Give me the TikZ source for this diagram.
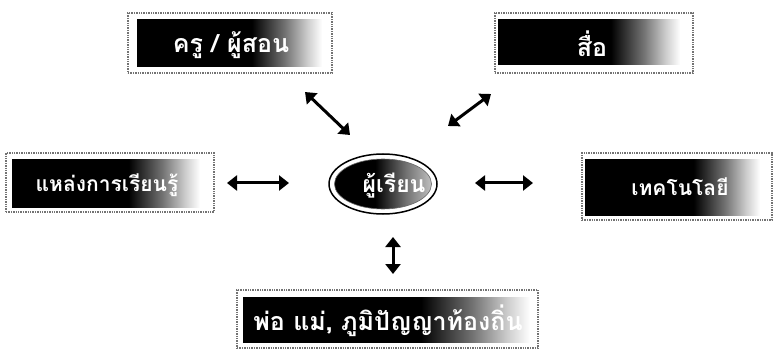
\documentclass[tikz,border=0pt]{standalone}
\usepackage{fontspec}
\newfontfamily\thai[Script=Thai]{Loma}
\usetikzlibrary{arrows.meta,shapes.geometric}
\pgfdeclarehorizontalshading{boxshade}{100bp}{color(0bp)=(black); color(25bp)=(black); color(56bp)=(black); color(65bp)=(black!55); color(71bp)=(black!20); color(75bp)=(white); color(100bp)=(white)}
\pgfdeclarehorizontalshading{ellshade}{100bp}{color(0bp)=(black); color(25bp)=(black); color(46bp)=(black); color(62bp)=(black!55); color(75bp)=(black!25); color(100bp)=(black!25)}
\tikzset{
  frame/.style={draw=black!55, densely dotted, line width=1.4pt, rectangle, inner sep=0pt},
  inbox/.style={rectangle, shading=boxshade, inner sep=0pt},
  lbl/.style={text=white, font=\thai\bfseries, inner sep=0pt},
  dbl/.style={{Triangle[length=10pt,width=15pt]}-{Triangle[length=10pt,width=15pt]}, line width=3pt},
}
\begin{document}
\begin{tikzpicture}[x=1pt,y=-1pt]
\useasboundingbox (0,0) rectangle (774,350);
% top-left
\node[frame, minimum width=204pt, minimum height=60pt] (tlf) at (230,43) {};
\node[inbox, minimum width=185pt, minimum height=47pt] (tlb) at (229.5,43.5) {};
\node[lbl, font=\thai\bfseries\fontsize{25}{27}\selectfont] (tl) at (231,45) {ครู / ผู้สอน};
% top-right
\node[frame, minimum width=198pt, minimum height=60pt] (trf) at (594,43) {};
\node[inbox, minimum width=182pt, minimum height=45pt] (trb) at (589,42.5) {};
\node[lbl, font=\thai\bfseries\fontsize{25}{27}\selectfont] (tr) at (592,44) {สื่อ};
% left
\node[frame, minimum width=208pt, minimum height=59pt] (lf) at (110,182.5) {};
\node[inbox, minimum width=188pt, minimum height=47pt] (lb) at (106,183.5) {};
\node[lbl, font=\thai\bfseries\fontsize{21}{23}\selectfont] (l) at (107,185) {แหล่งการเรียนรู้};
% right
\node[frame, minimum width=190pt, minimum height=67pt] (rf) at (677,186.5) {};
\node[inbox, minimum width=175pt, minimum height=55pt] (rb) at (672.5,187.5) {};
\node[lbl, font=\thai\bfseries\fontsize{21}{23}\selectfont] (r) at (680,187) {เทคโนโลยี};
% bottom
\node[frame, minimum width=301pt, minimum height=58pt] (bf) at (387.5,319) {};
\node[inbox, minimum width=287pt, minimum height=45pt] (bb) at (386.5,319.5) {};
\node[lbl, font=\thai\bfseries\fontsize{25}{27}\selectfont] (b) at (388,321) {พ่อ แม่, ภูมิปัญญาท้องถิ่น};
% centre ellipse
\node[ellipse, draw=black, line width=1.5pt, fill=white, minimum width=108pt, minimum height=60pt] (ce) at (383,184) {};
\node[ellipse, shading=ellshade, draw=black!60, line width=0.6pt, minimum width=97pt, minimum height=50pt] (ci) at (383,184) {};
\node[lbl, font=\thai\bfseries\fontsize{23}{25}\selectfont] (c) at (394,186) {ผู้เรียน};
% arrow end points
\coordinate (a1s) at (305,92);
\coordinate (a1e) at (350,135);
\coordinate (a2s) at (448,126);
\coordinate (a2e) at (491,94);
\coordinate (a3s) at (227,183);
\coordinate (a3e) at (289,183);
\coordinate (a4s) at (475,183);
\coordinate (a4e) at (533,183);
\coordinate (a5s) at (393,237);
\coordinate (a5e) at (393,274);
\draw[dbl] (a1s) -- (a1e);
\draw[dbl] (a2s) -- (a2e);
\draw[dbl] (a3s) -- (a3e);
\draw[dbl] (a4s) -- (a4e);
\draw[dbl] (a5s) -- (a5e);
\end{tikzpicture}
\end{document}
